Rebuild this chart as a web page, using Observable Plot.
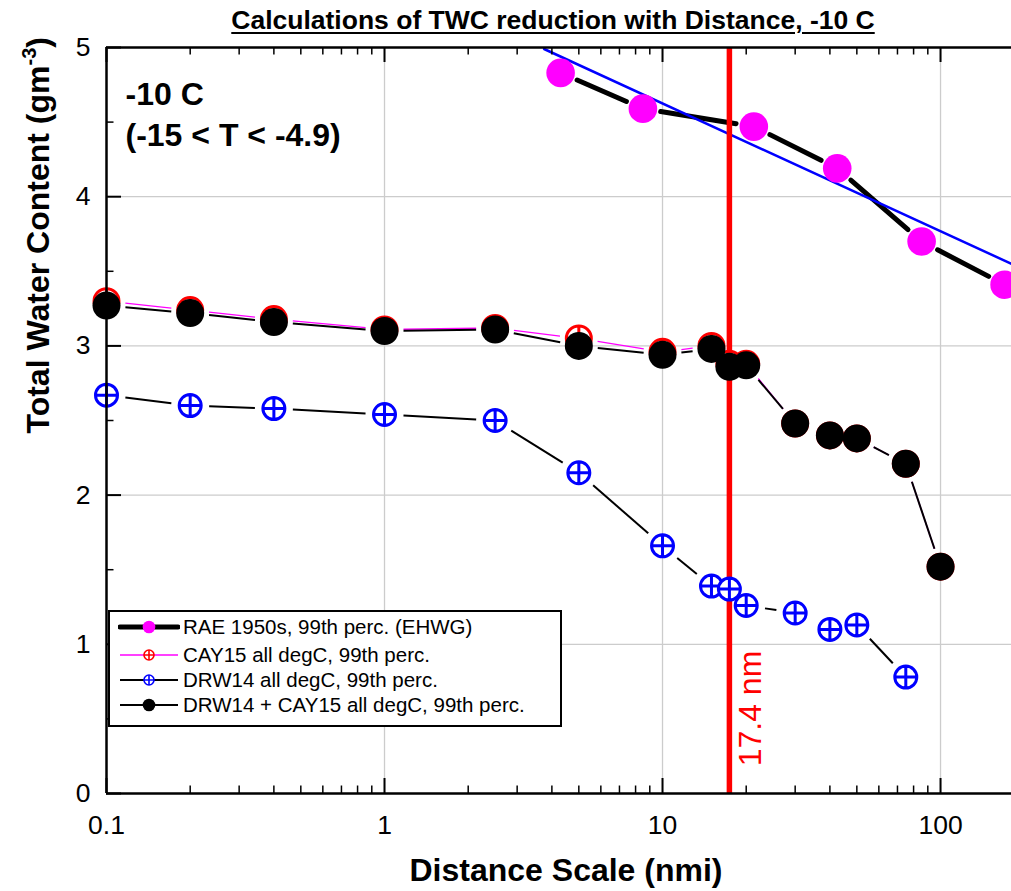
<!DOCTYPE html>
<html><head><meta charset="utf-8">
<script src="https://cdn.jsdelivr.net/npm/d3@7"></script>
<script src="https://cdn.jsdelivr.net/npm/@observablehq/plot@0.6"></script>
<style>
body{margin:0;background:#fff;font-family:"Liberation Sans",Arial,sans-serif;}
#wrap{position:relative;width:1011px;height:891px;overflow:hidden;}
#chart{position:absolute;left:0;top:0;}
#title{position:absolute;left:0;top:5px;width:1106px;text-align:center;font-weight:bold;font-size:26.5px;line-height:30px;}
#title span{text-decoration:underline;text-decoration-thickness:2px;text-underline-offset:3px;}
#legend{position:absolute;left:108px;top:610px;width:454px;height:117px;border:2px solid #000;box-sizing:border-box;background:#fff;}
.row{position:absolute;left:0;height:26px;width:440px;}
.row svg{position:absolute;left:8px;top:0;}
.row span{position:absolute;left:73px;top:0;line-height:26px;font-size:20.5px;white-space:nowrap;color:#000;}
</style></head>
<body><div id="wrap"><div id="chart"></div><div id="title"></div><div id="legend"></div></div>
<script>
// ---------------- data ----------------
const titleText = "Calculations of TWC reduction with Distance, -10 C";
const tempLabel = "-10 C\n(-15 < T < -4.9)";
const xLabel = "Distance Scale (nmi)";
const yLabelParts = ["Total Water Content (gm", "-3", ")"];
const cutoff = [17.4];
const cutoffLabel = "17.4 nm";

const raeX = [4.3, 8.5, 21.3, 42.5, 85.5, 170];
const raeY = [4.83, 4.59, 4.47, 4.19, 3.70, 3.41];
const fitX = [3.75, 180];
const fitY = [4.99, 3.55];

const cayX = [0.1, 0.2, 0.4, 1, 2.5, 5, 10, 15, 17.4, 20, 30, 40, 50, 75, 100];
const cayY = [3.30, 3.24, 3.18, 3.11, 3.12, 3.05, 2.96, 3.00, 2.88, 2.88, 2.48, 2.40, 2.38, 2.21, 1.52];
const drwX = [0.1, 0.2, 0.4, 1, 2.5, 5, 10, 15, 17.4, 20, 30, 40, 50, 75];
const drwY = [2.67, 2.60, 2.58, 2.54, 2.50, 2.15, 1.66, 1.39, 1.37, 1.26, 1.21, 1.10, 1.13, 0.78];
const combX = [0.1, 0.2, 0.4, 1, 2.5, 5, 10, 15, 17.4, 20, 30, 40, 50, 75, 100];
const combY = [3.27, 3.22, 3.16, 3.10, 3.11, 3.00, 2.94, 2.98, 2.86, 2.87, 2.48, 2.40, 2.38, 2.21, 1.52];

const xTicks = [0.1, 1, 10, 100];
const xTickLabels = ["0.1", "1", "10", "100"];
const xMinor = [0.2,0.3,0.4,0.5,0.6,0.7,0.8,0.9,2,3,4,5,6,7,8,9,20,30,40,50,60,70,80,90];
const xGrid = [1, 10, 100];
const yTicks = [0, 1, 2, 3, 4, 5];
const yTickLabels = ["0", "1", "2", "3", "4", "5"];
const yMinor = [0.5, 1.5, 2.5, 3.5, 4.5];
const yGrid = [1, 2, 3, 4];
const xDomain = [0.1, 180];
const yDomain = [0, 5];

const legendLabels = [
  "RAE 1950s, 99th perc. (EHWG)",
  "CAY15 all degC, 99th perc.",
  "DRW14 all degC, 99th perc.",
  "DRW14 + CAY15 all degC, 99th perc."
];

// ---------------- layout ----------------
const W = 1011, H = 891, ML = 106, MR = 0, MT = 47, MB = 98;
const FW = W - ML - MR, FH = H - MT - MB;
const xs = d3.scaleLog(xDomain, [ML, W - MR]);
const ys = d3.scaleLinear(yDomain, [H - MB, MT]);

const pts = (X, Y) => X.map((x, i) => ({x, y: Y[i]}));
// line segments with gaps around symbols (Origin style)
function gapped(X, Y, gap) {
  const segs = [];
  for (let i = 0; i < X.length - 1; i++) {
    const ax = xs(X[i]), ay = ys(Y[i]), bx = xs(X[i + 1]), by = ys(Y[i + 1]);
    const dx = bx - ax, dy = by - ay, L = Math.hypot(dx, dy);
    if (L <= 2 * gap + 1) continue;
    const ux = dx / L, uy = dy / L;
    segs.push({x1: xs.invert(ax + ux * gap), y1: ys.invert(ay + uy * gap),
               x2: xs.invert(bx - ux * gap), y2: ys.invert(by - uy * gap)});
  }
  return segs;
}
const crossCircle = {
  draw(ctx, size) {
    const r = Math.sqrt(size / Math.PI);
    ctx.moveTo(r, 0); ctx.arc(0, 0, r, 0, 2 * Math.PI);
    ctx.moveTo(-r, 0); ctx.lineTo(r, 0);
    ctx.moveTo(0, -r); ctx.lineTo(0, r);
  }
};
const seg = (segs, o) => Plot.link(segs, {x1: "x1", y1: "y1", x2: "x2", y2: "y2", ...o});

const chart = Plot.plot({
  width: W, height: H,
  marginLeft: ML, marginRight: MR, marginTop: MT, marginBottom: MB,
  style: {fontFamily: "'Liberation Sans', Arial, sans-serif", color: "#000", background: "#fff"},
  x: {type: "log", domain: xDomain, label: null},
  y: {domain: yDomain, label: null},
  marks: [
    Plot.ruleX(xGrid, {stroke: "#cccccc", strokeWidth: 1.3}),
    Plot.ruleY(yGrid, {stroke: "#cccccc", strokeWidth: 1.3}),
    // RAE
    seg(gapped(raeX, raeY, 18), {stroke: "#000", strokeWidth: 5, strokeLinecap: "round"}),
    Plot.line(pts(fitX, fitY), {x: "x", y: "y", stroke: "#0000ff", strokeWidth: 2.5}),
    Plot.ruleX(cutoff, {stroke: "#ff0000", strokeWidth: 5.5}),
    Plot.dot(pts(raeX, raeY), {x: "x", y: "y", r: 14.3, fill: "#ff00ff"}),
    // CAY15
    seg(gapped(cayX, cayY, 19), {stroke: "#ff00ff", strokeWidth: 1.3}),
    Plot.dot(pts(cayX, cayY), {x: "x", y: "y", r: 12.5, symbol: crossCircle, stroke: "#ff0000", strokeWidth: 3, fill: "#fff"}),
    // DRW14
    seg(gapped(drwX, drwY, 19), {stroke: "#000", strokeWidth: 2}),
    Plot.dot(pts(drwX, drwY), {x: "x", y: "y", r: 11, symbol: crossCircle, stroke: "#0000ff", strokeWidth: 3, fill: "#fff"}),
    // DRW14 + CAY15
    seg(gapped(combX, combY, 19), {stroke: "#000", strokeWidth: 2}),
    Plot.dot(pts(combX, combY), {x: "x", y: "y", r: 14, fill: "#000"}),
    // frame lines
    Plot.ruleX([xDomain[0]], {stroke: "#000", strokeWidth: 2.5}),
    Plot.ruleY([yDomain[0]], {stroke: "#000", strokeWidth: 2.5}),
    Plot.ruleY([yDomain[1]], {stroke: "#000", strokeWidth: 2.5}),
    // inward ticks
    Plot.tickX(xTicks, {x: d => d, insetTop: FH - 15, stroke: "#000", strokeWidth: 2}),
    Plot.tickX(xMinor, {x: d => d, insetTop: FH - 7.5, stroke: "#000", strokeWidth: 1.5}),
    Plot.tickX(xTicks, {x: d => d, insetBottom: FH - 15, stroke: "#000", strokeWidth: 2}),
    Plot.tickX(xMinor, {x: d => d, insetBottom: FH - 7.5, stroke: "#000", strokeWidth: 1.5}),
    Plot.tickY(yTicks, {y: d => d, insetRight: FW - 15, stroke: "#000", strokeWidth: 2}),
    Plot.tickY(yMinor, {y: d => d, insetRight: FW - 7.5, stroke: "#000", strokeWidth: 1.5}),
    // axis labels
    Plot.axisX({ticks: xTicks, tickFormat: d => xTickLabels[xTicks.indexOf(d)], tickSize: 0, tickPadding: 22, fontSize: 26.5, label: null}),
    Plot.axisY({ticks: yTicks, tickFormat: d => yTickLabels[yTicks.indexOf(d)], tickSize: 0, tickPadding: 16, fontSize: 26.5, label: null}),
    Plot.text([xLabel], {text: d => d, frameAnchor: "bottom", dx: 7, dy: 65, lineAnchor: "top", fontSize: 32, fontWeight: "bold"}),
    Plot.text([yLabelParts.join("")], {text: d => d, frameAnchor: "left", dx: -68, dy: 13, rotate: -90, fontSize: 32, fontWeight: "bold"}),
    // annotations
    Plot.text([tempLabel], {text: d => d, frameAnchor: "top-left", dx: 19, dy: 28, lineAnchor: "top", textAnchor: "start", fontSize: 32, fontWeight: "bold", lineHeight: 1.28}),
    Plot.text(cutoff, {x: d => d, text: () => cutoffLabel, frameAnchor: "bottom", dx: 32, dy: -85, rotate: -90, fill: "#ff0000", fontSize: 32})
  ]
});
document.getElementById("chart").appendChild(chart);

// superscript in y label
d3.select(chart).selectAll("text").filter(function () { return this.textContent === yLabelParts.join(""); })
  .each(function () {
    const t = d3.select(this);
    t.text(null);
    t.append("tspan").text(yLabelParts[0]);
    t.append("tspan").attr("dy", "-13").attr("font-size", "20").text(yLabelParts[1]);
    t.append("tspan").attr("dy", "13").text(yLabelParts[2]);
  });

// title
d3.select("#title").append("span").text(titleText);

// legend
const legendStyles = [
  {stroke: "#000", lw: 5, type: "dot", color: "#ff00ff"},
  {stroke: "#ff00ff", lw: 1.3, type: "cross", color: "#ff0000"},
  {stroke: "#000", lw: 2, type: "cross", color: "#0000ff"},
  {stroke: "#000", lw: 2, type: "dot", color: "#000"}
];
const rowTops = [2.3, 29.7, 54.7, 79.7];
const lg = d3.select("#legend");
legendLabels.forEach((lab, i) => {
  const s = legendStyles[i];
  const row = lg.append("div").attr("class", "row").style("top", rowTops[i] + "px");
  const sv = row.append("svg").attr("width", 62).attr("height", 26);
  sv.append("line").attr("x1", 2).attr("x2", 60).attr("y1", 13).attr("y2", 13)
    .attr("stroke", s.stroke).attr("stroke-width", s.lw).attr("stroke-linecap", s.lw > 3 ? "round" : "butt");
  if (s.type === "dot") {
    sv.append("circle").attr("cx", 31).attr("cy", 13).attr("r", 6.3).attr("fill", s.color);
  } else {
    sv.append("circle").attr("cx", 31).attr("cy", 13).attr("r", 5).attr("fill", "#fff").attr("stroke", s.color).attr("stroke-width", 1.6);
    sv.append("path").attr("d", "M26,13H36M31,8V18").attr("stroke", s.color).attr("stroke-width", 1.6);
  }
  row.append("span").text(lab);
});
</script>
</body></html>
